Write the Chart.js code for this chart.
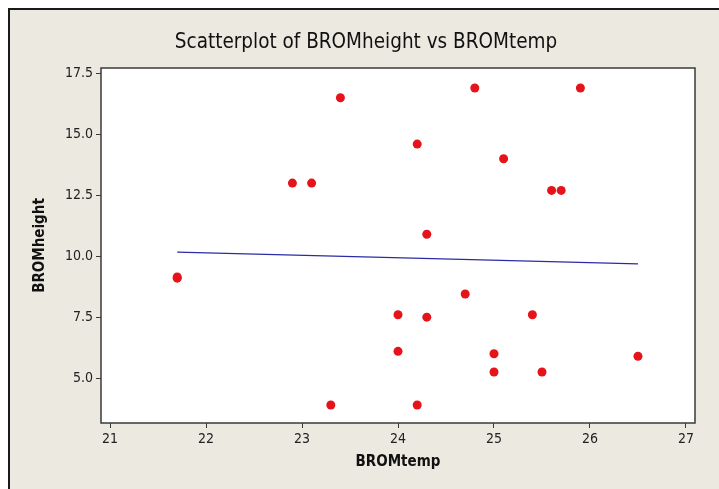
<!DOCTYPE html>
<html>
<head>
<meta charset="utf-8">
<script src="https://cdn.jsdelivr.net/npm/chart.js@4/dist/chart.umd.min.js"></script>
<style>
  html, body { margin: 0; padding: 0; background: #ffffff; }
  #wrap { width: 719px; height: 489px; position: relative; }
</style>
</head>
<body>
<div id="wrap"><canvas id="c" width="719" height="489"></canvas></div>
<script>
// BROMtemp / BROMheight observations
const bromTemp   = [21.7, 21.7, 22.9, 23.1, 23.3, 23.4, 24.0, 24.0, 24.2, 24.2, 24.3, 24.3,
                    24.7, 24.8, 25.0, 25.0, 25.1, 25.4, 25.5, 25.6, 25.7, 25.9, 26.5];
const bromHeight = [9.1, 9.15, 13.0, 13.0, 3.9, 16.5, 7.6, 6.1, 14.6, 3.9, 10.9, 7.5,
                    8.45, 16.9, 6.0, 5.25, 14.0, 7.6, 5.25, 12.7, 12.7, 16.9, 5.9];

// Fitted line end points
const fitTemp   = [21.7, 26.5];
const fitHeight = [10.17, 9.69];

// Axis ticks and ranges
const xTickValues = [21, 22, 23, 24, 25, 26, 27];
const yTickValues = [5.0, 7.5, 10.0, 12.5, 15.0, 17.5];
const xRange = [20.906, 27.094];
const yRange = [3.16, 17.72];

const chartTitle = 'Scatterplot of BROMheight vs BROMtemp';

const FONT = "'DejaVu Sans Condensed', 'DejaVu Sans', sans-serif";

const scatterPoints = bromTemp.map((t, i) => ({ x: t, y: bromHeight[i] }));
const fitPoints = fitTemp.map((t, i) => ({ x: t, y: fitHeight[i] }));

// Beige panel with dark top/left edge, the plot frame and the heading
const framePlugin = {
  id: 'frame',
  beforeDraw(chart) {
    const ctx = chart.ctx;
    ctx.save();
    ctx.fillStyle = '#ffffff';
    ctx.fillRect(0, 0, chart.width, chart.height);
    ctx.fillStyle = '#ECE9E0';
    ctx.fillRect(8, 8, chart.width - 8, chart.height - 8);
    ctx.fillStyle = '#1a1a1a';
    ctx.fillRect(8, 8, chart.width - 8, 2);
    ctx.fillRect(8, 8, 2, chart.height - 8);
    const a = chart.chartArea;
    ctx.fillStyle = '#ffffff';
    ctx.fillRect(a.left, a.top, a.right - a.left, a.bottom - a.top);
    // heading, centred on the panel
    ctx.fillStyle = '#111111';
    ctx.font = "normal 20.5px " + FONT;
    ctx.textAlign = 'center';
    ctx.textBaseline = 'middle';
    ctx.fillText(chartTitle, 366, 43);
    ctx.restore();
  },
  afterDatasetsDraw(chart) {
    const ctx = chart.ctx;
    const a = chart.chartArea;
    ctx.save();
    ctx.strokeStyle = '#3a3a3a';
    ctx.lineWidth = 1.5;
    ctx.strokeRect(a.left, a.top, a.right - a.left, a.bottom - a.top);
    ctx.restore();
  }
};

new Chart(document.getElementById('c'), {
  type: 'scatter',
  data: {
    datasets: [
      {
        type: 'line',
        data: fitPoints,
        borderColor: '#2b2ba6',
        borderWidth: 1.2,
        pointRadius: 0,
        fill: false,
        order: 2
      },
      {
        data: scatterPoints,
        backgroundColor: '#E5141B',
        borderWidth: 0,
        pointRadius: 4.5,
        order: 1
      }
    ]
  },
  options: {
    responsive: false,
    animation: false,
    devicePixelRatio: 1,
    layout: { padding: { left: 10, top: 68, right: 24, bottom: 0 } },
    plugins: {
      legend: { display: false },
      tooltip: { enabled: false },
      title: { display: false }
    },
    scales: {
      x: {
        type: 'linear',
        min: xRange[0],
        max: xRange[1],
        afterBuildTicks(scale) { scale.ticks = xTickValues.map(v => ({ value: v })); },
        afterFit(scale) { scale.height = 66; },
        ticks: {
          color: '#222222',
          font: { family: FONT, size: 14 },
          padding: 3,
          maxRotation: 0,
          callback: v => String(v)
        },
        grid: { drawOnChartArea: false, drawTicks: true, tickLength: 5, tickColor: '#3a3a3a', tickWidth: 1 },
        border: { display: false },
        title: {
          display: true,
          text: 'BROMtemp',
          color: '#111111',
          font: { family: FONT, size: 15, weight: 'bold', lineHeight: 1.2 },
          padding: { top: 0, bottom: 18 }
        }
      },
      y: {
        type: 'linear',
        min: yRange[0],
        max: yRange[1],
        afterBuildTicks(scale) { scale.ticks = yTickValues.map(v => ({ value: v })); },
        afterFit(scale) { scale.width = 91; },
        ticks: {
          color: '#222222',
          font: { family: FONT, size: 14 },
          padding: 3,
          callback: v => Number(v).toFixed(1)
        },
        grid: { drawOnChartArea: false, drawTicks: true, tickLength: 5, tickColor: '#3a3a3a', tickWidth: 1 },
        border: { display: false },
        title: {
          display: true,
          text: 'BROMheight',
          color: '#111111',
          font: { family: FONT, size: 15, weight: 'bold', lineHeight: 1.2 },
          padding: { top: 21, bottom: 0 }
        }
      }
    }
  },
  plugins: [framePlugin]
});
</script>
</body>
</html>
